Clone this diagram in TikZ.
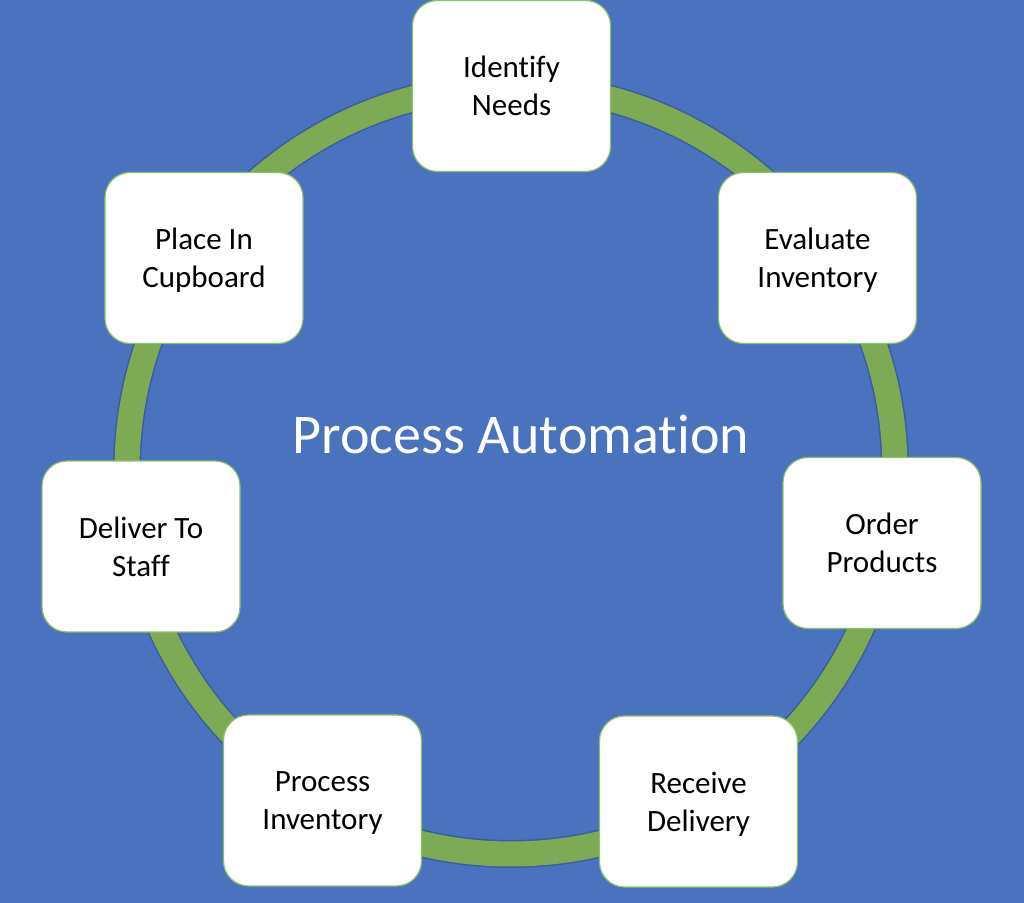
\documentclass[tikz,border=0pt]{standalone}
\usepackage{fontspec}
\setmainfont{Carlito}[Ligatures=NoCommon]
\definecolor{bgblue}{HTML}{4A72BE}
\definecolor{ringgreen}{HTML}{7DAB55}
\definecolor{ringedge}{HTML}{3B5C9E}
\definecolor{boxedge}{HTML}{8CC068}
\tikzset{
  stagebox/.style={draw=boxedge, line width=0.6pt, fill=white, rounded corners=12.5pt,
    minimum width=99pt, minimum height=85.5pt, align=center, text=black,
    font=\fontsize{15.5}{19}\selectfont, text depth=0pt},
  titletext/.style={text=white, font=\fontsize{28}{34}\selectfont}
}
\begin{document}
\begin{tikzpicture}[x=0.5pt,y=-0.5pt]
% background

\fill[bgblue] (0,0) rectangle (1024,903);
\useasboundingbox (0,0) rectangle (1024,903);


% ring

\draw[ringedge, line width=14pt] (511,470) circle[radius=192pt];
\draw[ringgreen, line width=12.5pt] (511,470) circle[radius=192pt];


% stages round the ring

\node[stagebox] (identify) at (511.5,86) {Identify\\Needs};
\node[stagebox] (evaluate) at (817.5,258) {Evaluate\\Inventory};
\node[stagebox] (order) at (882,543) {Order\\Products};
\node[stagebox] (receive) at (698.5,801.5) {Receive\\Delivery};
\node[stagebox] (process) at (322.5,800.5) {Process\\Inventory};
\node[stagebox] (deliver) at (141,546.5) {Deliver To\\Staff};
\node[stagebox] (cupboard) at (204,258) {Place In\\Cupboard};


% title in the middle

\node[titletext] (title) at (521,434) {Process Automation};

\end{tikzpicture}
\end{document}
